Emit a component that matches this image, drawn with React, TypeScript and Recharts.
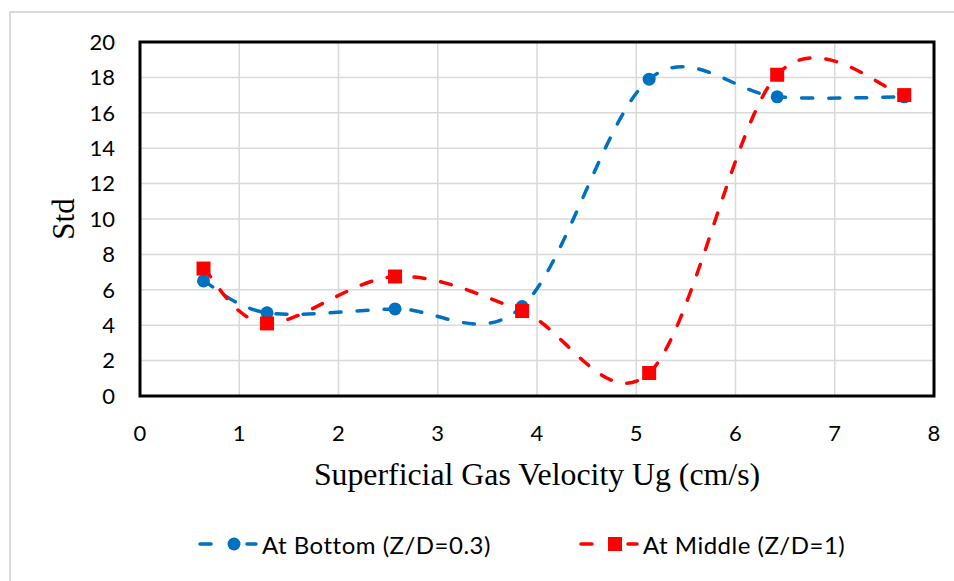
import React from "react";
import {
  LineChart,
  Line,
  XAxis,
  YAxis,
  CartesianGrid,
  ReferenceArea,
  Legend,
} from "recharts";

const velocity = [0.64, 1.28, 2.57, 3.85, 5.13, 6.42, 7.7];
const bottomStd = [6.5, 4.7, 4.92, 5.05, 17.9, 16.9, 16.9];
const middleStd = [7.2, 4.1, 6.75, 4.8, 1.3, 18.15, 17.0];

const xTicks = [0, 1, 2, 3, 4, 5, 6, 7, 8];
const yTicks = [0, 2, 4, 6, 8, 10, 12, 14, 16, 18, 20];

const seriesNames = ["At Bottom (Z/D=0.3)", "At Middle (Z/D=1)"];

const BLUE = "#0070C0";
const RED = "#FF0000";
const TICK_FONT = "Lato, 'Open Sans', sans-serif";
const SERIF = "'Liberation Serif', 'DejaVu Serif', serif";

const data = velocity.map((v, i) => ({
  ug: v,
  bottom: bottomStd[i],
  middle: middleStd[i],
}));

// Excel style smoothed line: cubic bezier, control points at 1/6 of neighbour chord
const excelSmooth = (context: any) => {
  let pts: [number, number][] = [];
  return {
    areaStart() {},
    areaEnd() {},
    lineStart() {
      pts = [];
    },
    point(x: number, y: number) {
      pts.push([+x, +y]);
    },
    lineEnd() {
      const n = pts.length;
      if (!n) return;
      context.moveTo(pts[0][0], pts[0][1]);
      for (let i = 0; i < n - 1; i++) {
        const p0 = pts[Math.max(i - 1, 0)];
        const p1 = pts[i];
        const p2 = pts[i + 1];
        const p3 = pts[Math.min(i + 2, n - 1)];
        context.bezierCurveTo(
          p1[0] + (p2[0] - p0[0]) / 6,
          p1[1] + (p2[1] - p0[1]) / 6,
          p2[0] - (p3[0] - p1[0]) / 6,
          p2[1] - (p3[1] - p1[1]) / 6,
          p2[0],
          p2[1]
        );
      }
    },
  };
};

const SquareDot = (props: any) => {
  const { cx, cy, index } = props;
  if (cx == null || cy == null) return null;
  return <rect key={`sq-${index}`} x={cx - 7} y={cy - 7} width={14} height={14} fill={RED} />;
};

const LegendIcon = ({ color, square }: { color: string; square?: boolean }) => (
  <svg width={62} height={20} style={{ display: "block" }}>
    <line x1={3} y1={10} x2={14} y2={10} stroke={color} strokeWidth={3.5} strokeLinecap="round" />
    {square ? (
      <rect x={30} y={3} width={14} height={14} fill={color} />
    ) : (
      <circle cx={37} cy={10} r={6.5} fill={color} />
    )}
    <line x1={50} y1={10} x2={59} y2={10} stroke={color} strokeWidth={3.5} strokeLinecap="round" />
  </svg>
);

const legendLeft = [197, 578];

const CustomLegend = () => (
  <div
    style={{
      position: "relative",
      height: 30,
      fontFamily: TICK_FONT,
      fontSize: 24,
      letterSpacing: 0.5,
      color: "#000",
    }}
  >
    {seriesNames.map((name, i) => (
      <div
        key={name}
        style={{
          position: "absolute",
          left: legendLeft[i],
          top: 0,
          height: 30,
          display: "flex",
          alignItems: "center",
          gap: 3,
          whiteSpace: "nowrap",
        }}
      >
        <LegendIcon color={i === 0 ? BLUE : RED} square={i === 1} />
        <span>{name}</span>
      </div>
    ))}
  </div>
);

export default function App() {
  return (
    <div
      style={{
        position: "absolute",
        left: 0,
        top: 0,
        width: 954,
        height: 581,
        overflow: "hidden",
        background: "#fff",
      }}
    >
      <div
        style={{
          position: "absolute",
          left: 9,
          top: 11,
          width: 1000,
          height: 1000,
          border: "2px solid #d9d9d9",
        }}
      />
      <div style={{ position: "absolute", left: 0, top: 0 }}>
        <LineChart
          width={954}
          height={581}
          data={data}
          margin={{ top: 42, right: 20, left: 0, bottom: 0 }}
        >
          <CartesianGrid stroke="#d9d9d9" strokeWidth={1.5} />
          <XAxis
            dataKey="ug"
            type="number"
            domain={[0, 8]}
            ticks={xTicks}
            height={185}
            axisLine={false}
            tickLine={false}
            tickSize={0}
            tickMargin={29}
            tick={{ fill: "#000", fontSize: 22, fontFamily: TICK_FONT }}
            label={{
              content: (p: any) => {
                const vb = p.viewBox || {};
                return (
                  <text
                    x={vb.x + vb.width / 2}
                    y={485}
                    textAnchor="middle"
                    fontFamily={SERIF}
                    fontSize={31.8}
                    fill="#000"
                  >
                    Superficial Gas Velocity Ug (cm/s)
                  </text>
                );
              },
            }}
          />
          <YAxis
            type="number"
            domain={[0, 20]}
            ticks={yTicks}
            width={140}
            axisLine={false}
            tickLine={false}
            tickSize={0}
            tickMargin={25}
            tick={{ fill: "#000", fontSize: 22, fontFamily: TICK_FONT }}
            label={{
              content: (p: any) => {
                const vb = p.viewBox || {};
                const cy = vb.y + vb.height / 2;
                return (
                  <text
                    x={74}
                    y={cy}
                    transform={`rotate(-90 74 ${cy})`}
                    textAnchor="middle"
                    fontFamily={SERIF}
                    fontSize={31}
                    fill="#000"
                  >
                    Std
                  </text>
                );
              },
            }}
          />
          <ReferenceArea x1={0} x2={8} y1={0} y2={20} fill="none" stroke="#000" strokeWidth={3} />
          <Line
            dataKey="bottom"
            name={seriesNames[0]}
            type={excelSmooth as any}
            stroke={BLUE}
            strokeWidth={3.5}
            strokeDasharray="11 16"
            strokeLinecap="round"
            dot={{ r: 6.5, fill: BLUE, stroke: "none" }}
            activeDot={false}
            isAnimationActive={false}
          />
          <Line
            dataKey="middle"
            name={seriesNames[1]}
            type={excelSmooth as any}
            stroke={RED}
            strokeWidth={3.5}
            strokeDasharray="11 16"
            strokeLinecap="round"
            dot={SquareDot}
            activeDot={false}
            isAnimationActive={false}
          />
          <Legend
            layout="horizontal"
            verticalAlign="middle"
            align="center"
            wrapperStyle={{ top: 529, left: 0, width: 954 }}
            content={<CustomLegend />}
          />
        </LineChart>
      </div>
    </div>
  );
}
